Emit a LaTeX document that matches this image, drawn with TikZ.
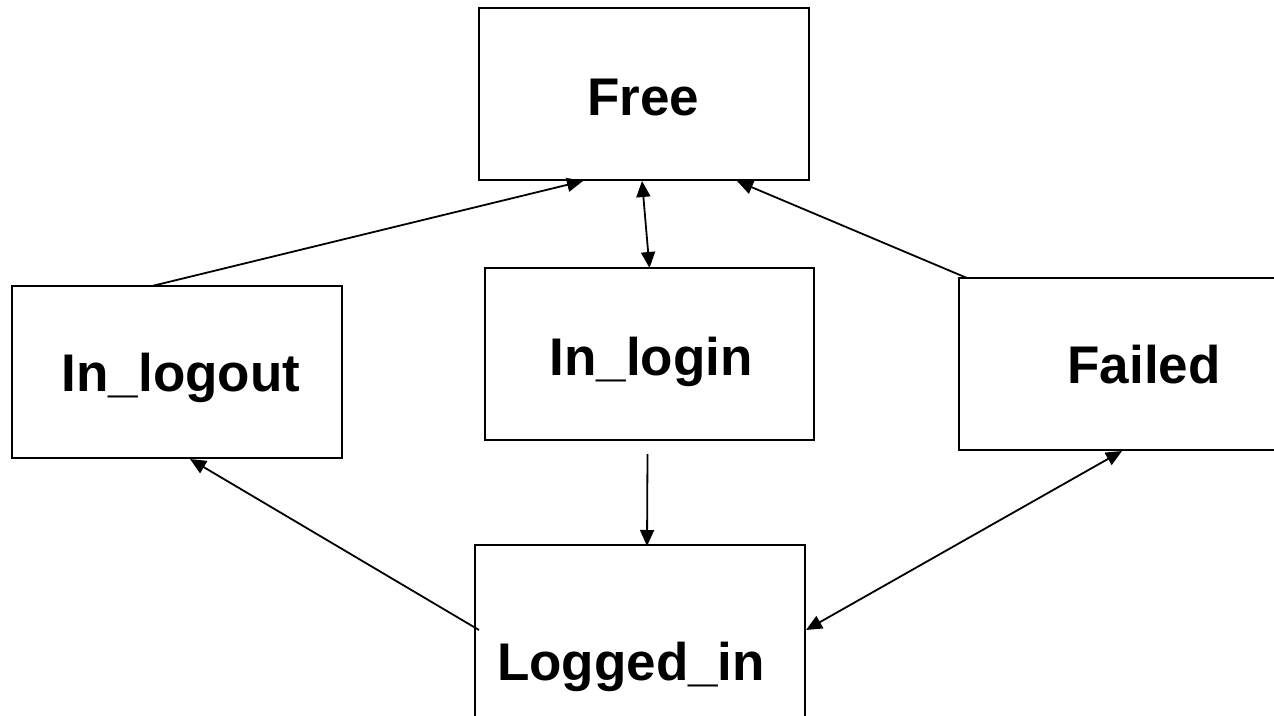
\documentclass[tikz,border=0pt]{standalone}
\usepackage{fontspec}
\setmainfont{Liberation Sans}
\usetikzlibrary{calc,arrows.meta}
\tikzset{
  box/.style={draw=black, line width=1.5pt, fill=white, minimum width=330pt, minimum height=172pt, inner sep=0pt, outer sep=0pt},
  lbl/.style={anchor=base, inner sep=0pt, font=\fontsize{53}{60}\selectfont\bfseries},
  conn/.style={line width=1.8pt, draw=black},
  tip/.style={-{Triangle[length=16pt,width=14pt]}},
  tips/.style={{Triangle[length=16pt,width=14pt]}-{Triangle[length=16pt,width=14pt]}},
}
\begin{document}
\begin{tikzpicture}[x=1pt,y=-1pt]
\useasboundingbox (0,0) rectangle (1274,715);
\fill[white] (0,0) rectangle (1274,715);
% boxes
\node[box] (free) at (644,94) {};
\node[box] (logout) at (177,372) {};
\node[box, minimum width=329pt] (login) at (649.5,354) {};
\node[box] (failed) at (1124,364) {};
\node[box] (logged) at (640,631) {};
% labels
\node[lbl] (freeT) at (643,115) {Free};
\node[lbl] (logoutT) at (181,391) {In\_logout};
\node[lbl] (loginT) at (651,375) {In\_login};
\node[lbl] (failedT) at (1144,383) {Failed};
\node[lbl] (loggedT) at (631,680) {Logged\_in};
% connectors
\draw[conn,tip] ($(logout.north west)+(140,0)$) -- ($(free.south west)+(104,1)$);
\draw[conn,tips] ($(free.south west)+(163,1)$) -- ($(login.north west)+(164.5,0)$);
\draw[conn,tip] ($(failed.north west)+(8,0)$) -- ($(free.south west)+(258,1)$);
\coordinate (loginOut) at ($(login.south west)+(162.5,14)$);
\draw[conn,tip] (loginOut) -- ($(logged.north west)+(172,1)$);
\coordinate (loggedL) at ($(logged.north west)+(4,85)$);
\draw[conn,tip] (loggedL) -- ($(logout.south west)+(178,1)$);
\draw[conn,tips] ($(logged.north east)+(1,85)$) -- ($(failed.south west)+(163,1)$);
\end{tikzpicture}
\end{document}
